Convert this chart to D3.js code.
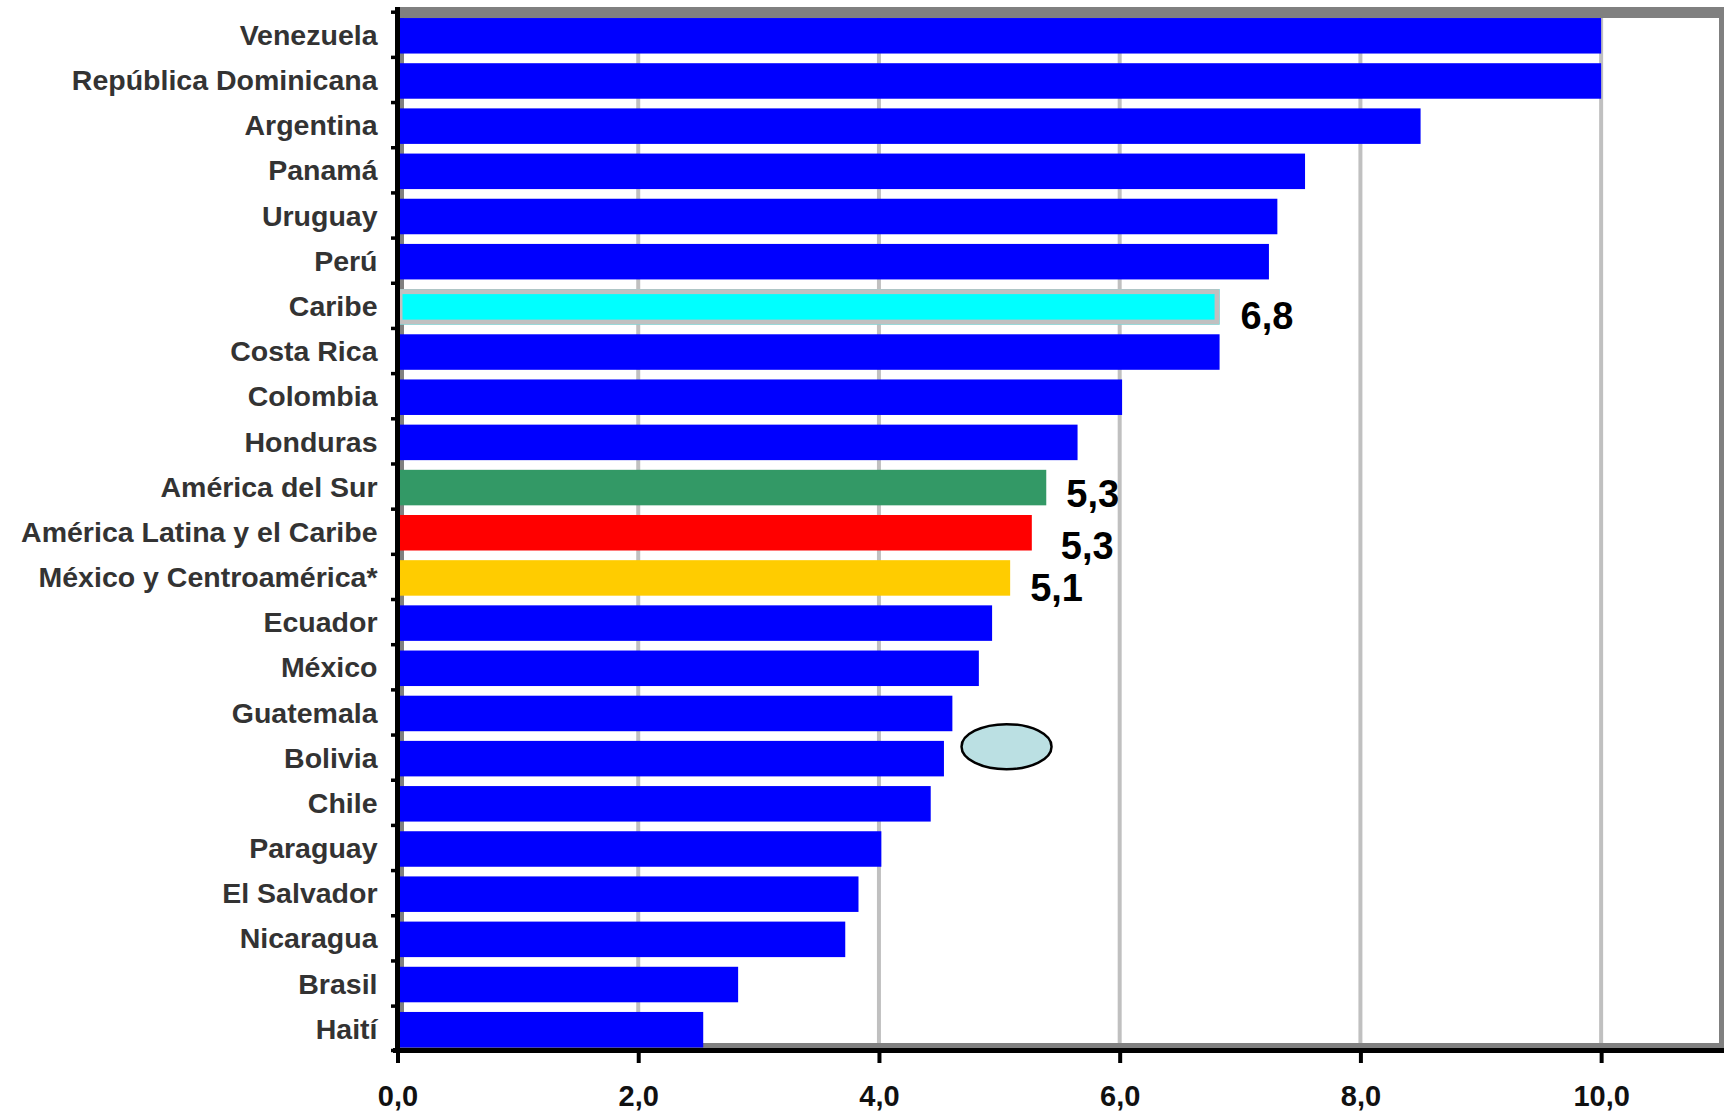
<!DOCTYPE html>
<html>
<head>
<meta charset="utf-8">
<script src="https://cdn.jsdelivr.net/npm/d3@7"></script>
<style>
  body { margin: 0; background: #fff; }
  svg { display: block; font-family: "Liberation Sans", Arial, sans-serif; }
</style>
</head>
<body>
<div id="chart"></div>
<script>
// categories, top to bottom
var categories = ["Venezuela", "República Dominicana", "Argentina", "Panamá", "Uruguay",
  "Perú", "Caribe", "Costa Rica", "Colombia", "Honduras", "América del Sur",
  "América Latina y el Caribe", "México y Centroamérica*", "Ecuador", "México",
  "Guatemala", "Bolivia", "Chile", "Paraguay", "El Salvador", "Nicaragua", "Brasil", "Haití"];

var values = [10.0, 10.0, 8.5, 7.54, 7.31, 7.24, 6.83, 6.83, 6.02, 5.65, 5.39,
  5.27, 5.09, 4.94, 4.83, 4.61, 4.54, 4.43, 4.02, 3.83, 3.72, 2.83, 2.54];

var xTicks = [0, 2, 4, 6, 8, 10];

// value labels written next to the aggregate bars
var labelCats = ["Caribe", "América del Sur", "América Latina y el Caribe", "México y Centroamérica*"];
var labelTexts = ["6,8", "5,3", "5,3", "5,1"];

// the marker drawn beside Bolivia
var markerCat = "Bolivia";
var markerValue = 5.06;

var width = 1730, height = 1114;

var colors = {
  "Caribe": "#00ffff",
  "América del Sur": "#339966",
  "América Latina y el Caribe": "#ff0000",
  "México y Centroamérica*": "#ffcc00"
};
// hand placed offsets of the value labels (px from bar end / bar centre)
var labelOffsets = {
  "Caribe": [21, 22],
  "América del Sur": [20, 19],
  "América Latina y el Caribe": [29, 26],
  "México y Centroamérica*": [20, 23]
};

var svg = d3.select("#chart").append("svg")
  .attr("width", width)
  .attr("height", height);

svg.append("rect").attr("width", width).attr("height", height).attr("fill", "#fff");

var x = d3.scaleLinear().domain([0, 11]).range([397.5, 1721.5]);
var y = d3.scaleBand().domain(categories).range([13.2, 1052.3])
  .paddingInner(0.214).paddingOuter(0.107);

// plot frame (grey) behind everything
var frame = svg.append("g").attr("fill", "#808080");
frame.append("rect").attr("x", 400).attr("y", 7).attr("width", 1324).attr("height", 11);
frame.append("rect").attr("x", 1719).attr("y", 7).attr("width", 5).attr("height", 1041);
frame.append("rect").attr("x", 400).attr("y", 1043).attr("width", 1324).attr("height", 5);
frame.append("rect").attr("x", 400).attr("y", 7).attr("width", 4).attr("height", 1041);

// vertical gridlines
svg.append("g").selectAll("line")
  .data(xTicks.filter(function(d) { return d > 0; }))
  .enter().append("line")
  .attr("x1", function(d) { return x(d); })
  .attr("x2", function(d) { return x(d); })
  .attr("y1", 18).attr("y2", 1043)
  .attr("stroke", "#c0c0c0").attr("stroke-width", 4);

// bars
var data = categories.map(function(c, i) { return { cat: c, value: values[i] }; });

svg.append("g").selectAll("rect")
  .data(data)
  .enter().append("rect")
  .attr("x", x(0) + 2.5)
  .attr("y", function(d) { return y(d.cat); })
  .attr("width", function(d) { return x(d.value) - x(0) - 2.5; })
  .attr("height", y.bandwidth())
  .attr("fill", function(d) { return colors[d.cat] || "#0000ff"; });

// Caribe bar has a light grey outline
var cb = data[categories.indexOf("Caribe")];
svg.append("rect")
  .attr("x", x(0) + 2.5)
  .attr("y", y(cb.cat) + 2.5)
  .attr("width", x(cb.value) - x(0) - 5)
  .attr("height", y.bandwidth() - 5)
  .attr("fill", "none")
  .attr("stroke", "#c0c0c0")
  .attr("stroke-width", 5);

// value labels
svg.append("g").selectAll("text")
  .data(labelCats)
  .enter().append("text")
  .attr("x", function(c) { return x(values[categories.indexOf(c)]) + labelOffsets[c][0]; })
  .attr("y", function(c) { return y(c) + y.bandwidth() / 2 + labelOffsets[c][1]; })
  .attr("font-size", 38)
  .attr("font-weight", "bold")
  .attr("fill", "#000")
  .text(function(c, i) { return labelTexts[i]; });

// ellipse marker
svg.append("ellipse")
  .attr("cx", x(markerValue))
  .attr("cy", y(markerCat) + y.bandwidth() / 2 - 12)
  .attr("rx", 45)
  .attr("ry", 22.5)
  .attr("fill", "#bbe0e3")
  .attr("stroke", "#000")
  .attr("stroke-width", 2.5);

// y axis: labels at band centres, ticks at band boundaries
var yAxis = svg.append("g")
  .attr("transform", "translate(" + x(0) + ",0)")
  .call(d3.axisLeft(y).tickSize(0).tickPadding(20));
yAxis.select(".domain").remove();
yAxis.selectAll("text")
  .attr("font-size", 28.5)
  .attr("font-weight", "bold")
  .attr("font-family", "Liberation Sans, Arial, sans-serif")
  .attr("fill", "#333");

var step = y.step();
var bounds = d3.range(categories.length).map(function(i) {
  return y(categories[i]) - step * y.paddingInner() / 2 - 1;
});
bounds.push(1050.5);
svg.append("g").selectAll("line")
  .data(bounds)
  .enter().append("line")
  .attr("x1", 391).attr("x2", 397.5)
  .attr("y1", function(d) { return d; })
  .attr("y2", function(d) { return d; })
  .attr("stroke", "#000").attr("stroke-width", 3.5);

svg.append("line")
  .attr("x1", x(0)).attr("x2", x(0))
  .attr("y1", 7).attr("y2", 1053)
  .attr("stroke", "#000").attr("stroke-width", 5);

// x axis
var xAxis = svg.append("g")
  .attr("transform", "translate(0,1050.5)")
  .call(d3.axisBottom(x)
    .tickValues(xTicks)
    .tickSize(12.5)
    .tickSizeOuter(0)
    .tickFormat(function(d) { return d3.format(".1f")(d).replace(".", ","); }));
xAxis.select(".domain")
  .attr("stroke", "#000")
  .attr("stroke-width", 5)
  .attr("d", "M393," + 0 + "H1724");
xAxis.selectAll(".tick line").attr("stroke", "#000").attr("stroke-width", 4);
xAxis.selectAll("text")
  .attr("y", 55)
  .attr("dy", 0)
  .attr("font-size", 29)
  .attr("font-weight", "bold")
  .attr("font-family", "Liberation Sans, Arial, sans-serif")
  .attr("fill", "#111");
</script>
</body>
</html>
